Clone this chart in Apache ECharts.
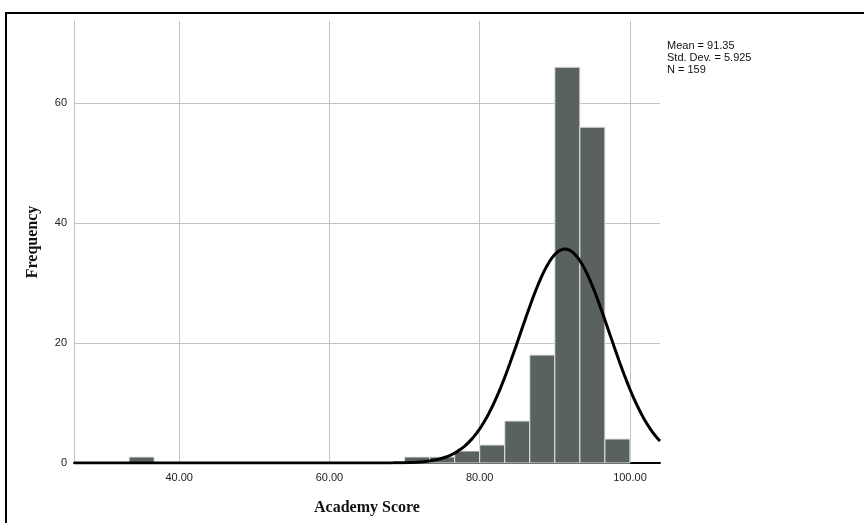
<!DOCTYPE html>
<html>
<head>
<meta charset="utf-8">
<script src="https://cdn.jsdelivr.net/npm/echarts@6/dist/echarts.min.js"></script>
<style>
  html, body { margin: 0; padding: 0; background: #fff; }
  #chart { width: 864px; height: 523px; }
</style>
</head>
<body>
<div id="chart"></div>
<script>
// Histogram bins of Academy Score (bin width 10/3) and their counts
const binWidth = 10 / 3;
const binStarts = [100 - 20 * binWidth, 70, 70 + binWidth, 70 + 2 * binWidth, 80, 80 + binWidth, 80 + 2 * binWidth, 90, 90 + binWidth, 90 + 2 * binWidth];
const counts = [1, 1, 1, 2, 3, 7, 18, 66, 56, 4];

// Summary statistics shown in the corner and used for the normal curve
const mean = 91.35;
const stdDev = 5.925;
const n = 159;

// Axis ranges and tick labels
const xMin = 26, xMax = 104;
const yMax = 73.7;
const xTicks = [40, 60, 80, 100];
const yTicks = [0, 20, 40, 60];

// Normal density scaled to the histogram's counts
const curve = [];
for (let x = xMin; x <= xMax + 1e-9; x += 0.25) {
  const z = (x - mean) / stdDev;
  curve.push([x, n * binWidth * Math.exp(-0.5 * z * z) / (stdDev * Math.sqrt(2 * Math.PI))]);
}

const bars = binStarts.map((s, i) => [s, s + binWidth, counts[i]]);

const chart = echarts.init(document.getElementById('chart'), null, { renderer: 'canvas' });
const sans = 'Liberation Sans, Arial, sans-serif';
const serif = 'Liberation Serif, Times New Roman, serif';

chart.setOption({
  animation: false,
  backgroundColor: '#ffffff',
  grid: { left: 74, right: 204, top: 21, bottom: 60, containLabel: false },
  xAxis: {
    type: 'value',
    min: xMin,
    max: xMax,
    name: 'Academy Score',
    nameLocation: 'middle',
    nameGap: 37,
    nameTextStyle: { fontFamily: serif, fontWeight: 'bold', fontSize: 16, color: '#111' },
    axisLine: { show: true, onZero: false, lineStyle: { color: '#000', width: 2 } },
    axisTick: { show: false, customValues: xTicks },
    axisLabel: {
      customValues: xTicks,
      formatter: v => v.toFixed(2),
      fontFamily: sans, fontSize: 11, color: '#222', margin: 9
    },
    splitLine: { show: true, lineStyle: { color: '#c4c4c4', width: 1 } }
  },
  yAxis: {
    type: 'value',
    min: 0,
    max: yMax,
    name: 'Frequency',
    nameLocation: 'middle',
    nameGap: 33,
    nameTextStyle: { fontFamily: serif, fontWeight: 'bold', fontSize: 16, color: '#111' },
    axisLine: { show: true, lineStyle: { color: '#c4c4c4', width: 1 } },
    axisTick: { show: false, customValues: yTicks },
    axisLabel: { customValues: yTicks, fontFamily: sans, fontSize: 11, color: '#222', margin: 7 },
    splitLine: { show: true, lineStyle: { color: '#c4c4c4', width: 1 } }
  },
  series: [
    {
      type: 'custom',
      data: bars,
      encode: { x: [0, 1], y: 2 },
      z: 2,
      renderItem: function (params, api) {
        const p0 = api.coord([api.value(0), api.value(2)]);
        const p1 = api.coord([api.value(1), 0]);
        return {
          type: 'rect',
          shape: { x: p0[0], y: p0[1], width: p1[0] - p0[0], height: p1[1] - p0[1] },
          style: { fill: '#5a625d', stroke: '#e2e4e2', lineWidth: 1 }
        };
      }
    },
    {
      type: 'line',
      data: curve,
      z: 3,
      showSymbol: false,
      symbol: 'none',
      smooth: false,
      lineStyle: { color: '#000', width: 3 }
    }
  ],
  graphic: [
    {
      type: 'rect',
      shape: { x: 6, y: 13, width: 900, height: 600 },
      style: { fill: 'none', stroke: '#000', lineWidth: 2 },
      silent: true
    },
    {
      type: 'text',
      left: 667,
      top: 40,
      style: {
        text: 'Mean = ' + mean.toFixed(2) + '\nStd. Dev. = ' + stdDev.toFixed(3) + '\nN = ' + n,
        fontFamily: sans,
        fontSize: 11,
        lineHeight: 12,
        fill: '#111'
      }
    }
  ]
});
</script>
</body>
</html>
